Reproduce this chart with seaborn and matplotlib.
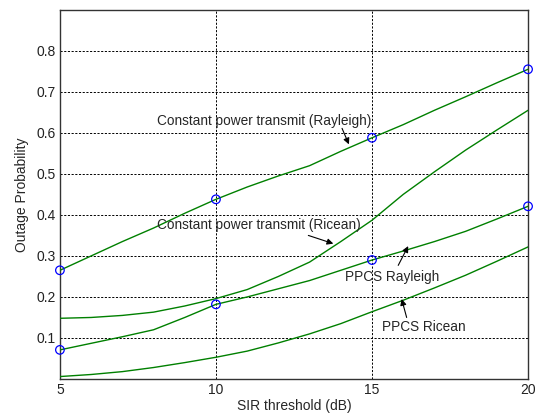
import matplotlib
matplotlib.use("Agg")
import matplotlib.pyplot as plt
import seaborn as sns
import pandas as pd

# ---- data ----
sir_db = [5, 6, 7, 8, 9, 10, 11, 12, 13, 14, 15, 16, 17, 18, 19, 20]
const_rayleigh = [0.265, 0.300, 0.335, 0.368, 0.404, 0.438, 0.468, 0.495, 0.520, 0.555,
                  0.588, 0.620, 0.655, 0.688, 0.722, 0.755]
const_ricean = [0.148, 0.150, 0.155, 0.163, 0.178, 0.196, 0.218, 0.250, 0.285, 0.335,
                0.387, 0.450, 0.505, 0.558, 0.607, 0.655]
ppcs_rayleigh = [0.071, 0.087, 0.103, 0.120, 0.150, 0.182, 0.200, 0.220, 0.240, 0.265,
                 0.290, 0.312, 0.335, 0.360, 0.390, 0.421]
ppcs_ricean = [0.006, 0.011, 0.018, 0.028, 0.040, 0.053, 0.068, 0.088, 0.110, 0.135,
               0.164, 0.192, 0.222, 0.253, 0.287, 0.322]
marker_x = [5, 10, 15, 20]
marker_rayleigh = [0.265, 0.438, 0.588, 0.755]
marker_ppcs = [0.071, 0.182, 0.290, 0.421]
x_ticks = [5, 10, 15, 20]
y_ticks = [0.1, 0.2, 0.3, 0.4, 0.5, 0.6, 0.7, 0.8]

sns.set_style("white")
plt.rcParams['font.family'] = ['Liberation Sans', 'DejaVu Sans']

fig = plt.figure(figsize=(5.35, 4.13), dpi=100)
ax = fig.add_axes([0.112, 0.0823, 0.875, 0.894])

green = '#008000'
for ys in (const_rayleigh, const_ricean, ppcs_rayleigh, ppcs_ricean):
    df = pd.DataFrame({'x': sir_db, 'y': ys})
    sns.lineplot(data=df, x='x', y='y', ax=ax, color=green, lw=1.0, zorder=3)

for ys in (marker_rayleigh, marker_ppcs):
    df = pd.DataFrame({'x': marker_x, 'y': ys})
    sns.scatterplot(data=df, x='x', y='y', ax=ax, marker='o', s=38,
                    facecolors='none', edgecolors='blue', linewidth=0.9,
                    zorder=4, clip_on=False)

ax.set_xlim(5, 20)
ax.set_ylim(0, 0.9)
ax.set_xticks(x_ticks)
ax.set_yticks(y_ticks)
ax.set_yticklabels([f"{v:.1f}" for v in y_ticks])
ax.grid(True, color='black', linestyle=(0, (2.2, 1.6)), linewidth=0.7)
ax.set_axisbelow(True)
ax.tick_params(direction='in', length=4, width=0.8, labelsize=10, colors='#222222',
               top=False, right=False, pad=3)
for s in ax.spines.values():
    s.set_color('#333333')
    s.set_linewidth(1.0)

ax.set_xlabel('SIR threshold (dB)', fontsize=10, labelpad=1)
ax.set_ylabel('Outage Probability', fontsize=10, labelpad=5)

ap = dict(arrowstyle='-|>', color='black', lw=0.8, mutation_scale=9, shrinkA=0, shrinkB=0)
fs = 9.8

ax.text(8.11, 0.630, 'Constant power transmit (Rayleigh)', fontsize=fs, va='center', ha='left')
ax.annotate('', xy=(14.26, 0.572), xytext=(14.04, 0.611), arrowprops=ap)

ax.text(8.11, 0.375, 'Constant power transmit (Ricean)', fontsize=fs, va='center', ha='left')
ax.annotate('', xy=(13.76, 0.330), xytext=(12.96, 0.350), arrowprops=ap)

ax.text(14.13, 0.249, 'PPCS Rayleigh', fontsize=fs, va='center', ha='left')
ax.annotate('', xy=(16.16, 0.324), xytext=(15.84, 0.277), arrowprops=ap)

ax.text(15.31, 0.127, 'PPCS Ricean', fontsize=fs, va='center', ha='left')
ax.annotate('', xy=(15.95, 0.195), xytext=(16.11, 0.150), arrowprops=ap)

fig.savefig('out.png', dpi=100)
